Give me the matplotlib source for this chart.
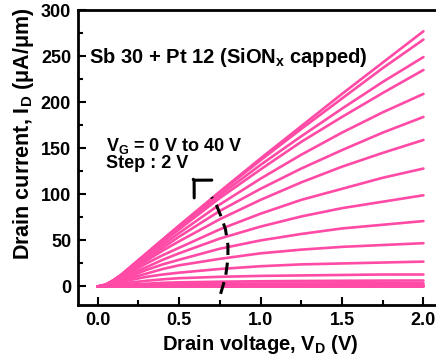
import matplotlib
matplotlib.use("Agg")
import matplotlib.pyplot as plt

# output curves, one row per gate voltage (0 V ... 40 V, 2 V step)
gate_voltage = list(range(0, 42, 2))
drain_voltage = [0, 0.05, 0.1, 0.15, 0.2, 0.3, 0.4, 0.5, 0.75, 1.0, 1.25, 1.5, 1.75, 2.0]
drain_current = [
    [0, 0, 0, 0, 0, 0, 0, 0, 0, 0, 0, 0, 0, 0],
    [0, 0, 0, 0, 0, 0, 0.1, 0.1, 0.1, 0.1, 0.1, 0.1, 0.1, 0.1],
    [0, 0, 0, 0.1, 0.1, 0.1, 0.1, 0.2, 0.2, 0.2, 0.2, 0.2, 0.2, 0.2],
    [0, 0, 0.1, 0.1, 0.2, 0.3, 0.3, 0.4, 0.4, 0.5, 0.5, 0.5, 0.5, 0.5],
    [0, 0.1, 0.2, 0.3, 0.4, 0.6, 0.7, 0.8, 0.9, 1.0, 1.0, 1.0, 1.0, 1.0],
    [0, 0.1, 0.3, 0.5, 0.7, 1.0, 1.3, 1.5, 1.7, 1.8, 1.9, 2.0, 2.0, 2.0],
    [0, 0.2, 0.5, 0.8, 1.2, 1.8, 2.3, 2.6, 3.0, 3.2, 3.3, 3.4, 3.5, 3.5],
    [0, 0.4, 1.0, 1.5, 2.1, 3.0, 4.0, 4.5, 5.2, 5.7, 6.0, 6.2, 6.4, 6.5],
    [0, 0.7, 2.0, 3.1, 4.3, 6.2, 7.8, 9.0, 10.5, 11.5, 12, 12.5, 13, 13],
    [0, 1.0, 3.0, 5.0, 7.0, 10.5, 13, 15, 19, 22, 24, 25, 26, 27],
    [0, 1.0, 3.2, 6.0, 9.0, 14, 19, 23, 30, 36, 40, 43, 45, 47],
    [0, 1.2, 4.0, 7.5, 11, 18, 24, 29, 41, 50, 57, 63, 67, 71],
    [0, 1.5, 5.0, 9.0, 13, 21, 29, 36, 52, 65, 76, 85, 92, 99],
    [0, 1.5, 5.0, 10, 15, 25, 34, 42, 62, 79, 94, 106, 118, 128],
    [0, 1.7, 6.0, 11, 17, 28, 39, 49, 73, 94, 113, 130, 145, 159],
    [0, 1.8, 6.0, 12, 18, 30, 42, 54, 82, 106, 128, 148, 167, 184],
    [0, 1.8, 6.5, 12.5, 19, 32, 45, 58, 89, 117, 143, 167, 189, 209],
    [0, 2.0, 7.0, 13, 20, 34, 48, 62, 96, 127, 157, 184, 210, 235],
    [0, 2.0, 7.0, 13, 20, 35, 50, 64, 99, 132, 163, 193, 222, 249],
    [0, 2.0, 7.0, 13.5, 21, 36, 51, 66, 102, 137, 171, 204, 237, 268],
    [0, 2.0, 7.0, 13.5, 21, 36, 51, 66, 103, 139, 174, 209, 243, 277],
]

# dashed guide through the curves with the arrow pointing to higher V_G
guide_vd = [0.755, 0.785, 0.80, 0.80, 0.785, 0.76, 0.73, 0.70]
guide_id = [-8, 10, 30, 45, 62, 75, 88, 97]
arrow_tip = (0.583, 117)

pink = "#ff4aa6"

plt.rcParams["font.family"] = ["Liberation Sans", "DejaVu Sans"]
plt.rcParams["font.weight"] = "bold"
plt.rcParams["mathtext.fontset"] = "custom"
plt.rcParams["mathtext.rm"] = "Liberation Sans:bold"
plt.rcParams["mathtext.it"] = "Liberation Sans:bold"
plt.rcParams["mathtext.bf"] = "Liberation Sans:bold"
plt.rcParams["mathtext.default"] = "rm"

fig = plt.figure(figsize=(4.36, 3.6), dpi=100)
ax = fig.add_axes([0.179, 0.153, 0.837, 0.819])

for vg, current in zip(gate_voltage, drain_current):
    ax.plot(drain_voltage, current, color=pink, lw=1.9, solid_capstyle="round",
            solid_joinstyle="round")

ax.plot(guide_vd, guide_id, color="black", lw=2.2, ls=(0, (4, 2.5)))
# open head only, corner at the tip, pointing up-left
ax.annotate("", xy=arrow_tip, xytext=(arrow_tip[0] + 0.004, arrow_tip[1] - 0.7),
            arrowprops=dict(arrowstyle="->,head_length=0.9,head_width=0.9",
                            color="black", lw=2.2))

ax.text(-0.055, 248, "Sb 30 + Pt 12 (SiON$_{x}$ capped)", fontsize=14.5,
        fontweight="bold", va="center", ha="left")
ax.text(0.05, 153, "V$_{G}$ = 0 V to 40 V", fontsize=13, fontweight="bold",
        va="center", ha="left")
ax.text(0.05, 134, "Step : 2 V", fontsize=13, fontweight="bold",
        va="center", ha="left")

ax.set_xlim(-0.12, 2.12)
ax.set_ylim(-20, 300)
ax.set_xticks([0.0, 0.5, 1.0, 1.5, 2.0])
ax.set_xticklabels(["0.0", "0.5", "1.0", "1.5", "2.0"])
ax.set_xticks([0.25, 0.75, 1.25, 1.75], minor=True)
ax.set_yticks([0, 50, 100, 150, 200, 250, 300])
ax.set_yticks([25, 75, 125, 175, 225, 275], minor=True)

ax.tick_params(which="both", direction="in", width=1.5, labelsize=13, pad=5)
ax.tick_params(which="major", length=6)
ax.tick_params(which="minor", length=3.5)
for side in ax.spines.values():
    side.set_linewidth(2)

ax.set_xlabel("Drain voltage, V$_{D}$ (V)", fontsize=14.5, fontweight="bold",
              labelpad=3)
ax.set_ylabel("Drain current, I$_{D}$ (\u03bcA/\u03bcm)", fontsize=15.5,
              fontweight="bold")
ax.yaxis.set_label_coords(-0.115, 0.58)

fig.savefig("out.png", dpi=100)
